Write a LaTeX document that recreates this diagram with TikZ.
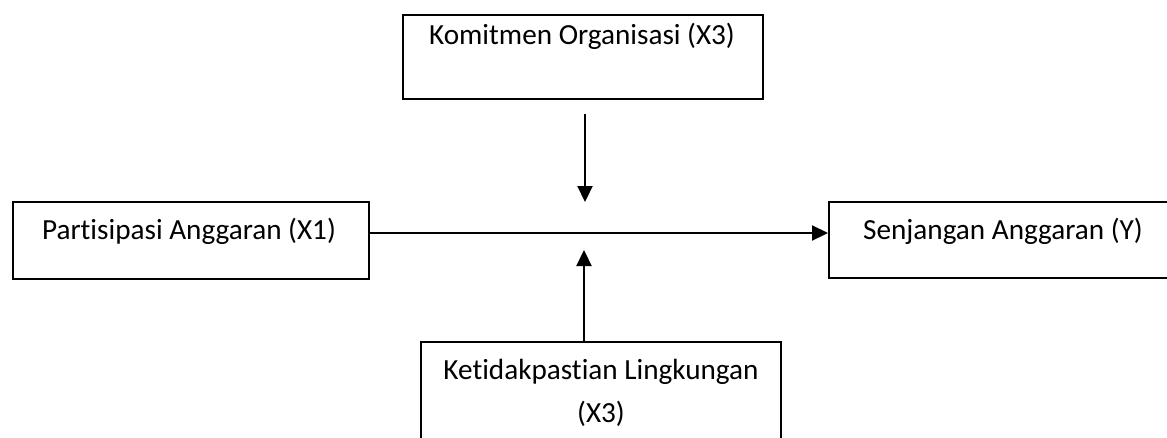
\documentclass[tikz,border=0pt]{standalone}
\usepackage{fontspec}
\setmainfont{Carlito}[Ligatures={NoCommon}]
\usetikzlibrary{arrows.meta}
\begin{document}
\begin{tikzpicture}[x=1pt,y=-1pt,
  box/.style={draw=black,line width=2pt,rectangle,inner sep=0pt,fill=white},
  lbl/.style={inner sep=0pt,font=\fontsize{29.2}{43}\selectfont,text=black},
  arr/.style={draw=black,line width=2.2pt,-{Triangle[length=16pt,width=15pt]}}]
\useasboundingbox (0,0) rectangle (1167,437);
\clip (0,0) rectangle (1167,437);
% boxes
\node[box,minimum width=360pt,minimum height=84pt] (top) at (583,57) {};
\node[box,minimum width=356pt,minimum height=77pt] (left) at (191,240.5) {};
\node[box,minimum width=348pt,minimum height=76pt] (right) at (1003,240) {};
\node[box,minimum width=360pt,minimum height=138pt] (bottom) at (601,411) {};
% texts
\node[lbl,anchor=base] (toptxt) at (582,44) {Komitmen Organisasi (X3)};
\node[lbl,anchor=base] (lefttxt) at (189,239) {Partisipasi Anggaran (X1)};
\node[lbl,anchor=base] (righttxt) at (1003,239) {Senjangan Anggaran (Y)};
\node[lbl,anchor=base] (bottxt1) at (601,379) {Ketidakpastian Lingkungan};
\node[lbl,anchor=base] (bottxt2) at (601,422) {(X3)};
% connectors
\coordinate (mid) at (585,233);
\coordinate (dstart) at (585,114);
\coordinate (dend) at (585,202);
\coordinate (uend) at (584,250);
\draw[arr] (left.east |- mid) -- (right.west |- mid);
\draw[arr] (dstart) -- (dend);
\draw[arr] (bottom.north -| uend) -- (uend);
\end{tikzpicture}
\end{document}
